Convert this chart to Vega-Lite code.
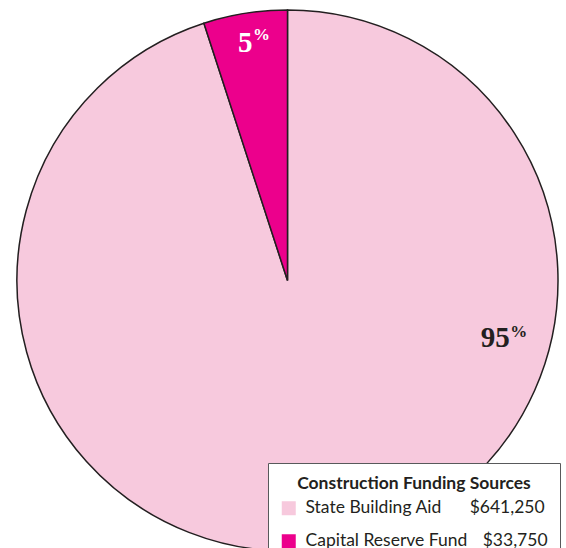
{
  "$schema": "https://vega.github.io/schema/vega-lite/v6.json",
  "width": 541,
  "height": 541,
  "autosize": {"type": "none"},
  "padding": {"left": 17, "top": 10, "right": 8, "bottom": 0},
  "background": "white",
  "data": {
    "values": [
      {"source": "State Building Aid", "amount": 641250, "pct": "95"},
      {"source": "Capital Reserve Fund", "amount": 33750, "pct": "5"}
    ]
  },
  "config": {
    "view": {"stroke": null},
    "legend": {
      "orient": "none",
      "legendX": 251,
      "legendY": 453,
      "titleFont": "Lato",
      "titleFontSize": 17.5,
      "titleFontWeight": "bold",
      "titleColor": "#231F20",
      "titleAnchor": "middle",
      "titlePadding": 7,
      "titleLimit": 400,
      "labelFont": "Lato",
      "labelFontSize": 17.5,
      "labelColor": "#231F20",
      "labelOffset": 8,
      "labelLimit": 400,
      "symbolType": "square",
      "symbolSize": 196,
      "symbolStrokeWidth": 0,
      "symbolOpacity": 1,
      "fillColor": "white",
      "strokeColor": "#58595B",
      "padding": 12,
      "rowPadding": 14
    }
  },
  "layer": [
    {
      "mark": {"type": "arc", "stroke": "#231F20", "strokeWidth": 1.5},
      "encoding": {
        "theta": {"field": "amount", "type": "quantitative", "stack": true},
        "order": {"field": "amount", "sort": "descending"},
        "color": {
          "field": "source",
          "type": "nominal",
          "scale": {
            "domain": ["State Building Aid", "Capital Reserve Fund"],
            "range": ["#F7C9DD", "#EC008C"]
          },
          "legend": {
            "title": "Construction Funding Sources",
            "labelExpr": "datum.label === 'State Building Aid' ? 'State Building Aid\u2003\u2003\u2009$641,250' : 'Capital Reserve Fund\u2003\u2009$33,750'"
          }
        }
      }
    },
    {
      "mark": {"type": "text", "radius": 1, "dx": 222, "dy": 65.5, "align": "right", "baseline": "alphabetic", "font": "Liberation Serif", "fontSize": 29, "fontWeight": "bold", "color": "#231F20"},
      "encoding": {
        "theta": {"field": "amount", "type": "quantitative", "stack": true},
        "order": {"field": "amount", "sort": "descending"},
        "text": {"condition": {"test": "datum.source === 'State Building Aid'", "field": "pct"}, "value": ""}
      }
    },
    {
      "mark": {"type": "text", "radius": 1, "dx": 222.5, "dy": 55.5, "align": "left", "baseline": "alphabetic", "font": "Liberation Serif", "fontSize": 17, "fontWeight": "bold", "color": "#231F20"},
      "encoding": {
        "theta": {"field": "amount", "type": "quantitative", "stack": true},
        "order": {"field": "amount", "sort": "descending"},
        "text": {"condition": {"test": "datum.source === 'State Building Aid'", "value": "%"}, "value": ""}
      }
    },
    {
      "mark": {"type": "text", "radius": 232, "dx": 1.3, "dy": 0.6, "align": "right", "baseline": "alphabetic", "font": "Liberation Serif", "fontSize": 29, "fontWeight": "bold", "color": "white"},
      "encoding": {
        "theta": {"field": "amount", "type": "quantitative", "stack": true},
        "order": {"field": "amount", "sort": "descending"},
        "text": {"condition": {"test": "datum.source === 'Capital Reserve Fund'", "field": "pct"}, "value": ""}
      }
    },
    {
      "mark": {"type": "text", "radius": 232, "dx": 1.8, "dy": -11.4, "align": "left", "baseline": "alphabetic", "font": "Liberation Serif", "fontSize": 17, "fontWeight": "bold", "color": "white"},
      "encoding": {
        "theta": {"field": "amount", "type": "quantitative", "stack": true},
        "order": {"field": "amount", "sort": "descending"},
        "text": {"condition": {"test": "datum.source === 'Capital Reserve Fund'", "value": "%"}, "value": ""}
      }
    }
  ]
}
